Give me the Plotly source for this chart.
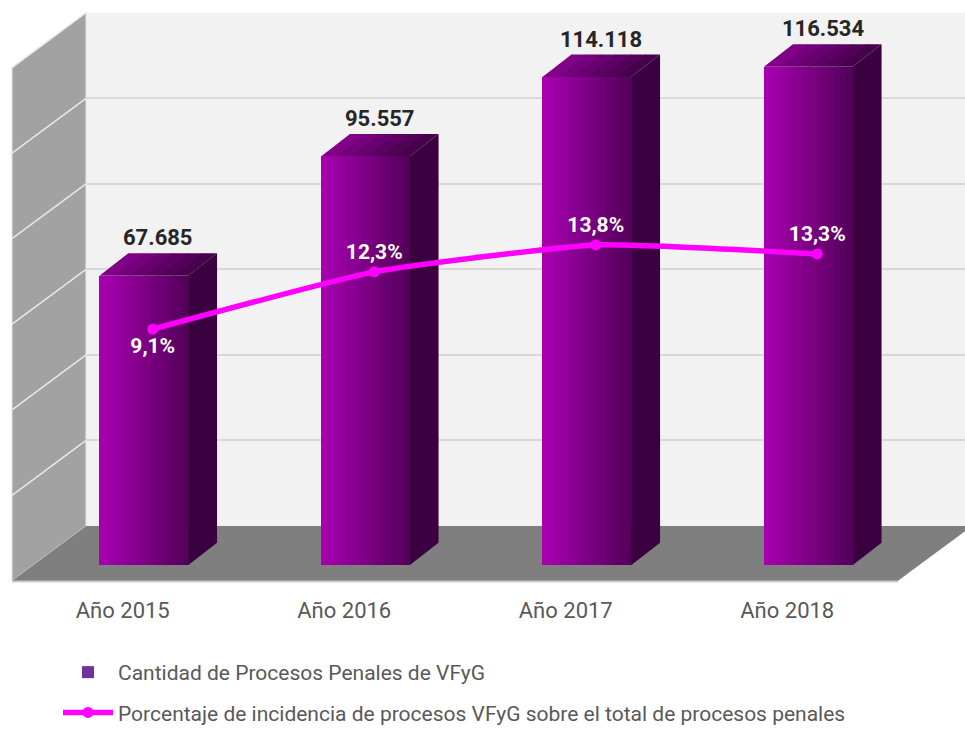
import plotly.graph_objects as go

# ---------------- data ----------------
years = ['Año 2015', 'Año 2016', 'Año 2017', 'Año 2018']
procesos = [67685, 95557, 114118, 116534]
procesos_txt = ['67.685', '95.557', '114.118', '116.534']
porcentaje = [9.1, 12.3, 13.8, 13.3]
porcentaje_txt = ['9,1%', '12,3%', '13,8%', '13,3%']
grid_vals = [20000, 40000, 60000, 80000, 100000, 120000]

name_bar = 'Cantidad de Procesos Penales de VFyG'
name_line = 'Porcentaje de incidencia de procesos VFyG sobre el total de procesos penales'

# ---------------- geometry (pixels of the 965x733 page) ----------------
W, H = 965, 733
def px(x): return x / W
def py(y): return 1 - y / H

back_l, back_t, back_b = 86, 13, 537        # back wall
front_l, front_b, front_r = 12, 593, 898    # front edge of walls/floor
dep_x, dep_y = 74, 56                        # depth of the box
k = (back_b - back_t) / 120000               # px per unit

bar_b = 577                                  # bar plane zero
bar_l, bar_r = 33, 919                       # bar plane category span
y2_max = 130000
y2_top = bar_b - y2_max * k
cat_px = (bar_r - bar_l) / 4

bw = 0.4                                     # bar width (category units)
ddx = 29 / cat_px                            # bar depth in x
ddy = 23 / k                                 # bar depth in y

# line axis (secondary) fitted to picture
l_zero, l_k = 502.5, 18.29
y3_rng = [(l_zero - bar_b) / l_k, (l_zero - y2_top) / l_k]
shift = 9 / cat_px

def mix(c1, c2, t):
    return 'rgb(%d,%d,%d)' % tuple(round(a + (b - a) * t) for a, b in zip(c1, c2))

c_left, c_right = (166, 0, 174), (86, 0, 93)
top_left, top_right = (128, 0, 136), (70, 0, 76)
side_col = '#3a003f'

fig = go.Figure()

# base bar (legend colour), covered by gradient strips
fig.add_trace(go.Bar(x=years, y=procesos, name=name_bar, width=bw, legendgroup='a',
                     marker=dict(color='#7030a0', line=dict(width=0)),
                     xaxis='x2', yaxis='y2', hoverinfo='skip'))
N = 14
for s in range(N):
    off = -bw / 2 + s * bw / N
    fig.add_trace(go.Bar(x=years, y=procesos, width=bw / 2 - off, offset=off, legendgroup='a',
                         marker=dict(color=mix(c_left, c_right, s / (N - 1)), line=dict(width=0)),
                         xaxis='x2', yaxis='y2', showlegend=False, hoverinfo='skip'))

fig.add_trace(go.Scatter(x=years, y=porcentaje, name=name_line, mode='lines+markers+text',
                         legendgroup='b',
                         line=dict(color='#ff00ff', width=5.5, shape='spline', smoothing=0.45),
                         marker=dict(color='#ff00ff', size=11),
                         text=porcentaje_txt,
                         textposition=['bottom center', 'top center', 'top center', 'top center'],
                         textfont=dict(family='Roboto', size=21, color='white', weight='bold'),
                         xaxis='x3', yaxis='y3', hoverinfo='skip'))

shapes = []
# walls and floor
shapes.append(dict(type='rect', xref='paper', yref='paper', x0=px(back_l), x1=1.01,
                   y0=py(back_b), y1=py(back_t), fillcolor='#f2f2f2', line=dict(width=0), layer='below'))
shapes.append(dict(type='path', xref='paper', yref='paper', layer='below', fillcolor='#a2a2a2',
                   line=dict(color='#e6e6e6', width=1),
                   path='M%f,%f L%f,%f L%f,%f L%f,%f Z' % (px(front_l), py(back_t + dep_y), px(back_l), py(back_t),
                                                           px(back_l), py(back_b), px(front_l), py(front_b))))
shapes.append(dict(type='path', xref='paper', yref='paper', layer='below', fillcolor='#7f7f7f',
                   line=dict(width=0),
                   path='M%f,%f L%f,%f L%f,%f L%f,%f Z' % (px(front_l), py(front_b), px(back_l), py(back_b),
                                                           px(front_r + dep_x), py(back_b), px(front_r), py(front_b))))
shapes.append(dict(type='line', xref='paper', yref='paper', layer='below',
                   x0=px(front_l), x1=px(front_r), y0=py(front_b + 1), y1=py(front_b + 1),
                   line=dict(color='#d0d0d0', width=1.5)))
# grid on left wall
for t in grid_vals:
    shapes.append(dict(type='line', xref='paper', yref='y', layer='below',
                       x0=px(back_l), y0=t, x1=px(front_l), y1=t - dep_y / k,
                       line=dict(color='#e8e8e8', width=1.5)))

# 3d faces of the bars
NT = 6
for i, v in enumerate(procesos):
    xr = i + bw / 2
    shapes.append(dict(type='path', xref='x2', yref='y2', layer='between', fillcolor=side_col,
                       line=dict(width=0),
                       path='M%f,0 L%f,%f L%f,%f L%f,%f Z' % (xr, xr, v, xr + ddx, v + ddy, xr + ddx, ddy)))
    for s in range(NT):
        a = i - bw / 2 + s * bw / NT
        b = i - bw / 2 + (s + 1) * bw / NT + (0.004 if s < NT - 1 else 0)
        shapes.append(dict(type='path', xref='x2', yref='y2', layer='between',
                           fillcolor=mix(top_left, top_right, s / (NT - 1)), line=dict(width=0),
                           path='M%f,%f L%f,%f L%f,%f L%f,%f Z' % (a, v, b, v, b + ddx, v + ddy, a + ddx, v + ddy)))

annotations = []
for i, v in enumerate(procesos):
    annotations.append(dict(x=i + ddx / 2, y=v + ddy, xref='x2', yref='y2', text=procesos_txt[i],
                            showarrow=False, yanchor='bottom', yshift=1,
                            font=dict(family='Roboto', size=22, color='#262626', weight='bold')))

fig.update_layout(
    width=W, height=H, autosize=False,
    margin=dict(l=0, r=0, t=0, b=0),
    paper_bgcolor='white', plot_bgcolor='rgba(0,0,0,0)',
    barmode='overlay', bargap=0,
    shapes=shapes, annotations=annotations,
    font=dict(family='Roboto', color='#595959'),
    xaxis=dict(domain=[px(back_l), 1], range=[0, 1], anchor='y', visible=False, fixedrange=True),
    yaxis=dict(domain=[py(back_b), py(back_t)], range=[0, 120000], anchor='x',
               tickvals=grid_vals, showgrid=True, gridcolor='#d9d9d9', gridwidth=2,
               showticklabels=False, zeroline=False, showline=False, ticks=''),
    xaxis2=dict(domain=[px(bar_l), px(bar_r)], range=[-0.5, 3.5], anchor='y2', type='category',
                showgrid=False, zeroline=False, showline=False, ticks='',
                tickfont=dict(family='Roboto', size=22, color='#595959'),
                ticklabelshift=-21, ticklabelstandoff=30),
    yaxis2=dict(domain=[py(bar_b), py(y2_top)], range=[0, y2_max], anchor='x2',
                visible=False, showgrid=False, zeroline=False),
    xaxis3=dict(overlaying='x2', anchor='y3', type='category', range=[-0.5 - shift, 3.5 - shift],
                visible=False),
    yaxis3=dict(overlaying='y2', anchor='x3', range=y3_rng, visible=False),
    legend=dict(orientation='v', x=px(58), y=py(666), xanchor='left', yanchor='top',
                font=dict(family='Roboto', size=21, color='#595959'),
                itemwidth=50, tracegroupgap=10, traceorder='grouped', bgcolor='rgba(0,0,0,0)'),
)

# page body has a default 8px margin; drop it so the figure fills the window
fig.write_html("out.html", config={'displayModeBar': False},
               post_script="document.body.style.margin='0';")
